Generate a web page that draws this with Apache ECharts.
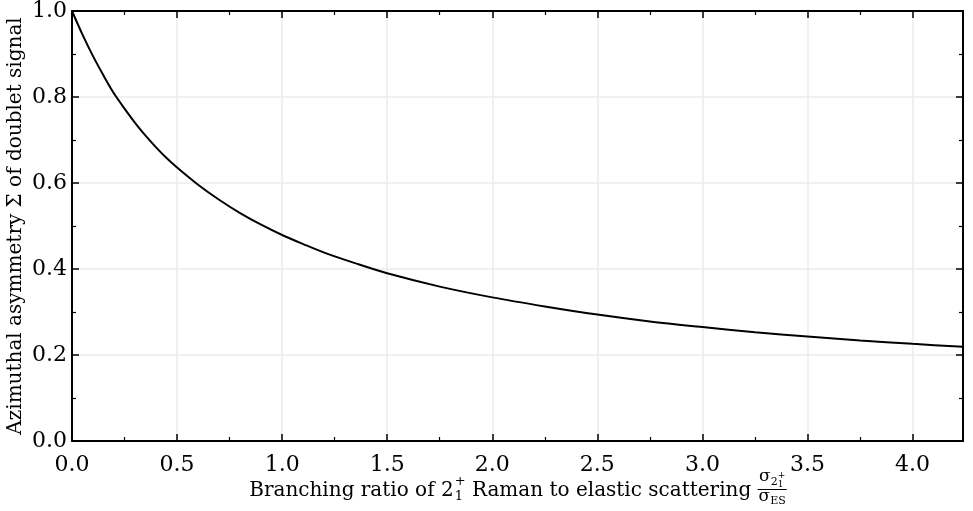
<!DOCTYPE html>
<html>
<head>
<meta charset="utf-8">
<script src="https://cdn.jsdelivr.net/npm/echarts@6/dist/echarts.min.js"></script>
<style>
html,body{margin:0;padding:0;background:#fff;}
#chart{width:973px;height:511px;}
</style>
</head>
<body>
<div id="chart"></div>
<script>
// Branching ratio (x) and azimuthal asymmetry (y)
const ratio = [0, 0.05, 0.1, 0.15, 0.2, 0.25, 0.3, 0.35, 0.4, 0.45, 0.5, 0.6, 0.7, 0.8, 0.9, 1.0, 1.1, 1.2, 1.35, 1.5, 1.75, 2.0, 2.25, 2.5, 2.75, 3.0, 3.25, 3.5, 3.75, 4.0, 4.24];
const asym  = [1.0, 0.945, 0.895, 0.850, 0.808, 0.773, 0.740, 0.710, 0.683, 0.658, 0.636, 0.596, 0.561, 0.530, 0.503, 0.479, 0.458, 0.438, 0.413, 0.390, 0.359, 0.334, 0.313, 0.294, 0.278, 0.265, 0.253, 0.243, 0.234, 0.226, 0.219];
const xTickLabels = ['0.0','0.5','1.0','1.5','2.0','2.5','3.0','3.5','4.0'];
const yTickLabels = ['0.0','0.2','0.4','0.6','0.8','1.0'];
const yTitle = 'Azimuthal asymmetry Σ of doublet signal';

const FONT = '"DejaVu Serif"';
const chart = echarts.init(document.getElementById('chart'));
const data = ratio.map((r, i) => [r, asym[i]]);

const G = {left: 72, right: 10, top: 11, bottom: 70};

function axisCommon(extra) {
  return Object.assign({
    type: 'value',
    axisLine: {show: true, onZero: false, lineStyle: {color: '#000', width: 2}},
    axisTick: {show: true, inside: true, length: 7, lineStyle: {color: '#000', width: 1.5}},
    minorTick: {show: true, splitNumber: 2, length: 4, lineStyle: {color: '#000', width: 1.2}},
  }, extra);
}

const option = {
  animation: false,
  backgroundColor: '#fff',
  grid: {left: G.left, right: G.right, top: G.top, bottom: G.bottom, containLabel: false, outerBoundsMode: 'none'},
  xAxis: [
    axisCommon({
      position: 'bottom', min: 0, max: 4.24, interval: 0.5,
      axisLabel: {show: true, margin: 13, color: '#000', fontFamily: FONT, fontSize: 22,
        showMaxLabel: false,
        formatter: v => { const i = Math.round(v / 0.5); return Math.abs(v - i * 0.5) < 1e-6 ? (xTickLabels[i] || '') : ''; }},
      splitLine: {show: true, lineStyle: {color: '#ebebeb', width: 1.5}}
    }),
    axisCommon({
      position: 'top', min: 0, max: 4.24, interval: 0.5,
      axisLabel: {show: false}, splitLine: {show: false}
    })
  ],
  yAxis: [
    axisCommon({
      position: 'left', min: 0, max: 1, interval: 0.2,
      name: yTitle, nameLocation: 'middle', nameGap: 46, nameRotate: 90, nameMoveOverlap: false,
      nameTextStyle: {color: '#000', fontFamily: FONT, fontSize: 20},
      axisLabel: {show: true, margin: 5, color: '#000', fontFamily: FONT, fontSize: 22,
        formatter: v => { const i = Math.round(v / 0.2); return yTickLabels[i] || ''; }},
      splitLine: {show: true, lineStyle: {color: '#ebebeb', width: 1.5}}
    }),
    axisCommon({
      position: 'right', min: 0, max: 1, interval: 0.2,
      axisLabel: {show: false}, splitLine: {show: false}
    })
  ],
  series: [{
    type: 'line', xAxisIndex: 0, yAxisIndex: 0,
    data: data, smooth: 0.3, showSymbol: false, symbol: 'none',
    lineStyle: {color: '#000', width: 2}, clip: false
  }]
};
chart.setOption(option);

// x-axis title built as text pieces (with stacked sub/superscripts and a fraction)
(function () {
  const cv = document.createElement('canvas').getContext('2d');
  function w(t, size) { cv.font = size + 'px ' + FONT; return cv.measureText(t).width; }
  const mainSize = 20, scriptSize = 13, fracSize = 17, fracScript = 11, fracTiny = 9;
  const p1 = 'Branching ratio of 2';
  const p2 = ' Raman to elastic scattering ';
  const w1 = w(p1, mainSize);
  const wS = Math.max(w('+', scriptSize), w('1', scriptSize));
  const w2 = w(p2, mainSize);
  const numW = w('σ', fracSize) + w('2', fracScript) + w('+', fracTiny);
  const denW = w('σ', fracSize) + w('ES', fracScript);
  const fracW = Math.max(numW, denW) + 2;
  const total = w1 + wS + w2 + fracW;
  const cx = G.left + (973 - G.left - G.right) / 2;
  let x = cx - total / 2;
  const yMid = 491;
  const els = [];
  function txt(t, size, px, py) {
    els.push({type: 'text', silent: true, style: {text: t, x: px, y: py, fill: '#000',
      font: size + 'px ' + FONT, textAlign: 'left', textVerticalAlign: 'middle'}});
  }
  txt(p1, mainSize, x, yMid); x += w1;
  txt('+', scriptSize, x + 1, yMid - 9);
  txt('1', scriptSize, x + 1, yMid + 6);
  x += wS + 1;
  txt(p2, mainSize, x, yMid); x += w2;
  // fraction
  const fx = x;
  let nx = fx + (fracW - numW) / 2;
  txt('σ', fracSize, nx, 477); nx += w('σ', fracSize);
  txt('2', fracScript, nx, 482); nx += w('2', fracScript);
  txt('+', fracTiny, nx, 476);
  txt('1', fracTiny, nx, 485);
  els.push({type: 'line', silent: true, shape: {x1: fx, y1: 489.5, x2: fx + fracW, y2: 489.5},
    style: {stroke: '#000', lineWidth: 1}});
  let dx = fx + (fracW - denW) / 2;
  txt('σ', fracSize, dx, 497); dx += w('σ', fracSize);
  txt('ES', fracScript, dx, 501);
  chart.setOption({graphic: {elements: els}});
})();
</script>
</body>
</html>
